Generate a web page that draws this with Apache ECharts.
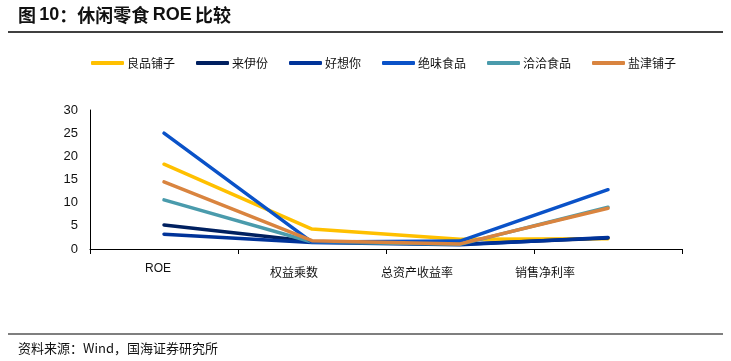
<!DOCTYPE html>
<html><head><meta charset="utf-8">
<script src="https://cdn.jsdelivr.net/npm/echarts@6/dist/echarts.min.js"></script>
<style>html,body{margin:0;padding:0;background:#fff}#c{width:731px;height:361px}</style>
</head><body><div id="c"></div>
<script>
const categories = ['ROE', '权益乘数', '总资产收益率', '销售净利率'];
const yTicks = [0, 5, 10, 15, 20, 25, 30];
const seriesNames = ['良品铺子', '来伊份', '好想你', '绝味食品', '洽洽食品', '盐津铺子'];
const liangpin = [18.3, 4.3, 2.1, 2.2];
const laiyifen = [5.2, 1.6, 1.0, 2.4];
const haoxiangni = [3.2, 1.4, 0.9, 2.5];
const juewei = [25.0, 1.5, 1.7, 12.8];
const qiaqia = [10.6, 1.5, 1.0, 9.0];
const yanjin = [14.5, 1.8, 1.1, 8.8];
const colors = ['#FFC000', '#002060', '#003399', '#0A52C8', '#4A9BAC', '#D9843F'];
const dataSets = [liangpin, laiyifen, haoxiangni, juewei, qiaqia, yanjin];

const chart = echarts.init(document.getElementById('c'));
const FONT = 'Liberation Sans, Noto Sans CJK SC, sans-serif';
const labelShift = {ROE: [2, 12, 0, 0], '权益乘数': [5, 36, 0, 0], '总资产收益率': [5, 86, 0, 0], '销售净利率': [5, 126, 0, 0]};
chart.setOption({
  animation: false,
  textStyle: {fontFamily: FONT},
  graphic: [
    {type: 'text', left: 18, top: 6, style: {
      text: '{a|图} {b|10}{a|：休闲零食} {b|ROE} {a|比较}',
      rich: {
        a: {fontSize: 18, fontWeight: 'bold', fontFamily: '"Noto Sans CJK SC", sans-serif', fill: '#111', color: '#111'},
        b: {fontSize: 18, fontWeight: 'bold', fontFamily: 'Liberation Sans, sans-serif', fill: '#111', color: '#111'}
      }}},
    {type: 'line', shape: {x1: 8, y1: 32, x2: 723, y2: 32}, style: {stroke: '#000', lineWidth: 1.5}},
    {type: 'line', shape: {x1: 8, y1: 334, x2: 723, y2: 334}, style: {stroke: '#000', lineWidth: 1.2}},
    {type: 'text', left: 18, top: 342, style: {text: '资料来源：Wind，国海证券研究所', font: '13px "Noto Sans CJK SC", sans-serif', fill: '#111'}}
  ],
  legend: {
    left: 86, top: 52,
    itemWidth: 33, itemHeight: 4, itemGap: 21,
    icon: 'roundRect',
    textStyle: {fontSize: 12, color: '#111', fontFamily: '"Noto Sans CJK SC", sans-serif', padding: [0, 0, 0, -2]},
    data: seriesNames
  },
  grid: {left: 90, right: 49, top: 110, bottom: 112, containLabel: false},
  xAxis: {
    type: 'category', data: categories, boundaryGap: true,
    axisLine: {lineStyle: {color: '#000', width: 1}},
    axisTick: {show: true, inside: false, length: 5, lineStyle: {color: '#000'}},
    axisLabel: {
      interval: 0, margin: 12, color: '#111', fontSize: 12,
      fontFamily: '"Noto Sans CJK SC", sans-serif',
      formatter: function (v) { return '{' + 'k' + categories.indexOf(v) + '|' + v + '}'; },
      rich: {
        k0: {padding: labelShift['ROE'], fontFamily: 'Liberation Sans, sans-serif', fontSize: 12},
        k1: {padding: labelShift['权益乘数']},
        k2: {padding: labelShift['总资产收益率']},
        k3: {padding: labelShift['销售净利率']}
      }
    }
  },
  yAxis: {
    type: 'value', min: 0, max: 30, interval: 5,
    axisLine: {show: true, lineStyle: {color: '#000', width: 1}},
    axisTick: {show: false},
    splitLine: {show: false},
    axisLabel: {margin: 12, color: '#111', fontSize: 13, fontFamily: 'Liberation Sans, sans-serif',
      formatter: function (v) { return yTicks.indexOf(v) >= 0 ? String(v) : ''; }}
  },
  series: seriesNames.map(function (n, i) {
    return {
      name: n, type: 'line', data: dataSets[i],
      symbol: 'none', showSymbol: false,
      lineStyle: {color: colors[i], width: 3.5, cap: 'round', join: 'round'},
      itemStyle: {color: colors[i]},
      z: i === 5 ? 10 : (i === 3 ? 9 : 2 + i)
    };
  })
});
</script></body></html>
